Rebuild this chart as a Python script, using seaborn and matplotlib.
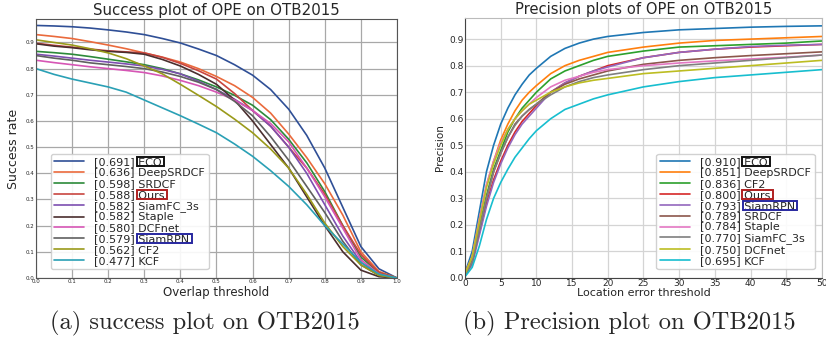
"""Success / precision plots of OPE on OTB2015, two panels side by side."""
import matplotlib

matplotlib.use("Agg")

import matplotlib.pyplot as plt  # noqa: E402
import numpy as np  # noqa: E402
import pandas as pd  # noqa: E402
import seaborn as sns  # noqa: E402
from matplotlib.patches import Rectangle  # noqa: E402

# ---------------------------------------------------------------------------
# Data
# ---------------------------------------------------------------------------
overlap_x = [0.0, 0.05, 0.1, 0.15, 0.2, 0.25, 0.3, 0.35, 0.4, 0.45, 0.5,
             0.55, 0.6, 0.65, 0.7, 0.75, 0.8, 0.85, 0.9, 0.95, 1.0]

success_names = ["ECO", "DeepSRDCF", "SRDCF", "Ours", "SiamFC_3s", "Staple",
                 "DCFnet", "SiamRPN", "CF2", "KCF"]
success_auc = [0.691, 0.636, 0.598, 0.588, 0.582, 0.582, 0.580, 0.579, 0.562, 0.477]

succ_eco = [0.965, 0.963, 0.960, 0.955, 0.948, 0.940, 0.930, 0.915, 0.898, 0.875, 0.850,
            0.815, 0.775, 0.720, 0.645, 0.545, 0.420, 0.270, 0.120, 0.035, 0.0]
succ_deepsrdcf = [0.930, 0.923, 0.915, 0.903, 0.890, 0.876, 0.860, 0.844, 0.825, 0.800, 0.770,
                  0.735, 0.690, 0.630, 0.550, 0.460, 0.360, 0.240, 0.100, 0.025, 0.0]
succ_srdcf = [0.866, 0.861, 0.855, 0.846, 0.836, 0.826, 0.815, 0.800, 0.780, 0.757, 0.730,
              0.698, 0.660, 0.605, 0.530, 0.440, 0.330, 0.200, 0.080, 0.020, 0.0]
succ_ours = [0.897, 0.889, 0.882, 0.875, 0.868, 0.864, 0.860, 0.843, 0.820, 0.792, 0.760,
             0.705, 0.640, 0.580, 0.500, 0.420, 0.320, 0.200, 0.090, 0.020, 0.0]
succ_siamfc = [0.855, 0.848, 0.840, 0.832, 0.825, 0.818, 0.810, 0.797, 0.780, 0.752, 0.720,
               0.683, 0.640, 0.580, 0.500, 0.400, 0.280, 0.160, 0.060, 0.010, 0.0]
succ_staple = [0.895, 0.886, 0.880, 0.872, 0.866, 0.862, 0.855, 0.835, 0.810, 0.778, 0.740,
               0.680, 0.600, 0.510, 0.420, 0.310, 0.200, 0.100, 0.030, 0.005, 0.0]
succ_dcfnet = [0.832, 0.823, 0.815, 0.807, 0.800, 0.793, 0.785, 0.772, 0.755, 0.735, 0.710,
               0.680, 0.640, 0.590, 0.520, 0.420, 0.310, 0.190, 0.070, 0.015, 0.0]
succ_siamrpn = [0.850, 0.840, 0.832, 0.822, 0.815, 0.808, 0.800, 0.787, 0.770, 0.748, 0.720,
                0.675, 0.620, 0.540, 0.450, 0.350, 0.250, 0.140, 0.050, 0.010, 0.0]
succ_cf2 = [0.910, 0.900, 0.890, 0.876, 0.860, 0.838, 0.810, 0.780, 0.740, 0.698, 0.655,
            0.607, 0.555, 0.493, 0.420, 0.320, 0.210, 0.120, 0.050, 0.010, 0.0]
succ_kcf = [0.800, 0.778, 0.760, 0.745, 0.730, 0.710, 0.680, 0.650, 0.620, 0.588, 0.555,
            0.512, 0.465, 0.410, 0.350, 0.280, 0.200, 0.130, 0.060, 0.015, 0.0]

location_x = [0, 1, 2, 3, 4, 5, 6, 7, 8, 9, 10, 12, 14, 16, 18, 20,
              25, 30, 35, 40, 45, 50]

precision_names = ["ECO", "DeepSRDCF", "CF2", "Ours", "SiamRPN", "SRDCF", "Staple",
                   "SiamFC_3s", "DCFnet", "KCF"]
precision_score = [0.910, 0.851, 0.836, 0.800, 0.793, 0.789, 0.784, 0.770, 0.750, 0.695]

prec_eco = [0.020, 0.100, 0.250, 0.400, 0.500, 0.580, 0.640, 0.690, 0.730, 0.765, 0.790,
            0.835, 0.865, 0.885, 0.900, 0.910, 0.925, 0.935, 0.940, 0.945, 0.948, 0.950]
prec_deepsrdcf = [0.020, 0.080, 0.220, 0.350, 0.440, 0.520, 0.580, 0.630, 0.670, 0.700, 0.725,
                  0.770, 0.800, 0.820, 0.835, 0.850, 0.870, 0.885, 0.895, 0.900, 0.905, 0.910]
prec_cf2 = [0.015, 0.070, 0.190, 0.310, 0.410, 0.480, 0.550, 0.600, 0.640, 0.670, 0.700,
            0.750, 0.780, 0.800, 0.820, 0.835, 0.855, 0.870, 0.875, 0.880, 0.885, 0.893]
prec_ours = [0.010, 0.060, 0.170, 0.280, 0.370, 0.440, 0.500, 0.550, 0.590, 0.620, 0.650,
             0.700, 0.735, 0.760, 0.780, 0.800, 0.830, 0.850, 0.862, 0.870, 0.875, 0.880]
prec_siamrpn = [0.010, 0.050, 0.160, 0.270, 0.360, 0.430, 0.490, 0.540, 0.580, 0.610, 0.640,
                0.700, 0.735, 0.760, 0.780, 0.795, 0.830, 0.850, 0.862, 0.872, 0.877, 0.880]
prec_srdcf = [0.010, 0.060, 0.180, 0.300, 0.400, 0.470, 0.530, 0.580, 0.610, 0.635, 0.655,
              0.700, 0.730, 0.750, 0.765, 0.780, 0.805, 0.820, 0.830, 0.838, 0.845, 0.852]
prec_staple = [0.015, 0.080, 0.220, 0.350, 0.440, 0.510, 0.560, 0.600, 0.630, 0.655, 0.680,
               0.720, 0.745, 0.760, 0.775, 0.785, 0.800, 0.810, 0.818, 0.825, 0.832, 0.840]
prec_siamfc = [0.010, 0.060, 0.180, 0.300, 0.400, 0.470, 0.530, 0.575, 0.610, 0.635, 0.655,
               0.690, 0.720, 0.740, 0.755, 0.765, 0.785, 0.800, 0.810, 0.820, 0.830, 0.840]
prec_dcfnet = [0.015, 0.080, 0.210, 0.340, 0.430, 0.500, 0.560, 0.600, 0.630, 0.655, 0.670,
               0.700, 0.720, 0.735, 0.745, 0.752, 0.770, 0.780, 0.790, 0.800, 0.810, 0.820]
prec_kcf = [0.005, 0.040, 0.120, 0.220, 0.300, 0.360, 0.410, 0.455, 0.490, 0.525, 0.555,
            0.600, 0.635, 0.655, 0.675, 0.690, 0.720, 0.740, 0.755, 0.765, 0.775, 0.785]

success_curves = [succ_eco, succ_deepsrdcf, succ_srdcf, succ_ours, succ_siamfc, succ_staple,
                  succ_dcfnet, succ_siamrpn, succ_cf2, succ_kcf]
precision_curves = [prec_eco, prec_deepsrdcf, prec_cf2, prec_ours, prec_siamrpn, prec_srdcf,
                    prec_staple, prec_siamfc, prec_dcfnet, prec_kcf]

# Names whose legend entry gets a framed box, with the frame colour.
HIGHLIGHT = {"ECO": "#111111", "Ours": "#b02020", "SiamRPN": "#2828a0"}

LEFT_COLORS = ["#2f4f96", "#ea6a3c", "#2c8a3a", "#c8453f", "#7d4fb0", "#4a2e2e",
               "#d656b5", "#606060", "#9a9a1a", "#2aa0b5"]
RIGHT_COLORS = sns.color_palette("tab10", 10)

LEGEND_KW = dict(fontsize=8, labelspacing=0.08, handlelength=2.7,
                 handletextpad=0.95, borderpad=0.3, frameon=True,
                 edgecolor="#cccccc", framealpha=0.9)


def long_frame(x, names, curves):
    rows = []
    for name, ys in zip(names, curves):
        rows.append(pd.DataFrame({"x": x, "y": ys, "tracker": name}))
    return pd.concat(rows, ignore_index=True)


def draw_panel(ax, df, names, scores, colors, lw):
    sns.lineplot(data=df, x="x", y="y", hue="tracker", hue_order=names,
                 palette=colors, linewidth=lw, legend=False, ax=ax)
    labels = [f"[{s:.3f}] {n}" for s, n in zip(scores, names)]
    return ax.get_lines()[:len(names)], labels


sns.set_style("whitegrid")
plt.rcParams["font.family"] = ["DejaVu Sans"]

fig = plt.figure(figsize=(8.26, 3.4), dpi=100)
ax1 = fig.add_axes([0.0436, 0.1824, 0.437, 0.762])
ax2 = fig.add_axes([0.563, 0.1824, 0.432, 0.765])

# ---- left: success plot ---------------------------------------------------
df1 = long_frame(overlap_x, success_names, success_curves)
h1, l1 = draw_panel(ax1, df1, success_names, success_auc, LEFT_COLORS, 1.2)
ax1.set_xlim(0, 1)
ax1.set_ylim(0, 0.99)
ax1.set_xticks(np.arange(0, 1.01, 0.1))
ax1.set_yticks(np.arange(0, 0.91, 0.1))
ax1.xaxis.set_major_formatter(matplotlib.ticker.FormatStrFormatter("%.1f"))
ax1.yaxis.set_major_formatter(matplotlib.ticker.FormatStrFormatter("%.1f"))
ax1.tick_params(labelsize=4, pad=1, length=0)
ax1.grid(color="#a8a8a8", linewidth=0.9)
for sp in ax1.spines.values():
    sp.set_color("#555555")
    sp.set_linewidth(0.8)
ax1.set_title("Success plot of OPE on OTB2015", fontsize=10.8, pad=3)
ax1.set_xlabel("Overlap threshold", fontsize=8.5, labelpad=1)
ax1.set_ylabel("Success rate", fontsize=9, labelpad=4,
               family=["Liberation Sans Narrow", "DejaVu Sans"])
leg1 = ax1.legend(h1, l1, loc="lower left", bbox_to_anchor=(0.025, 0.012),
                  **LEGEND_KW)

# ---- right: precision plot ------------------------------------------------
df2 = long_frame(location_x, precision_names, precision_curves)
h2, l2 = draw_panel(ax2, df2, precision_names, precision_score, RIGHT_COLORS, 1.2)
ax2.set_xlim(0, 50)
ax2.set_ylim(0, 0.98)
ax2.set_xticks(np.arange(0, 51, 5))
ax2.set_yticks(np.arange(0, 0.91, 0.1))
ax2.yaxis.set_major_formatter(matplotlib.ticker.FormatStrFormatter("%.1f"))
ax2.tick_params(labelsize=6.5, pad=1, length=0)
ax2.grid(color="#d4d4d4", linewidth=0.9)
for sp in ax2.spines.values():
    sp.set_color("#bbbbbb")
ax2.spines["left"].set_color("#444444")
ax2.spines["bottom"].set_color("#444444")
ax2.set_title("Precision plots of OPE on OTB2015", fontsize=10.6, pad=3)
ax2.set_xlabel("Location error threshold", fontsize=8, labelpad=0)
ax2.set_ylabel("Precision", fontsize=7.5, labelpad=3)
leg2 = ax2.legend(h2, l2, loc="lower right", bbox_to_anchor=(0.995, 0.012),
                  **LEGEND_KW)

# ---- captions -------------------------------------------------------------
fig.text(0.248, 0.05, "(a) success plot on OTB2015", ha="center", va="center",
         fontsize=17.6, family="cmr10")
fig.text(0.762, 0.05, "(b) Precision plot on OTB2015", ha="center", va="center",
         fontsize=17.6, family="cmr10")

# ---- frames around selected tracker names in the legends ------------------
fig.canvas.draw()
renderer = fig.canvas.get_renderer()
W, H = fig.bbox.width, fig.bbox.height
for leg in (leg1, leg2):
    for txt in leg.get_texts():
        name = txt.get_text().split("] ", 1)[1]
        if name not in HIGHLIGHT:
            continue
        bb = txt.get_window_extent(renderer)
        w_name, _, _ = renderer.get_text_width_height_descent(
            name, txt.get_fontproperties(), ismath=False)
        x0 = bb.x1 - w_name - 2
        rect = Rectangle((x0 / W, (bb.y0 + 1) / H), (w_name + 4) / W,
                         (bb.height - 1) / H, transform=fig.transFigure,
                         fill=False, edgecolor=HIGHLIGHT[name], linewidth=1.4,
                         zorder=10)
        fig.add_artist(rect)

fig.savefig("out.png", dpi=100)
plt.close(fig)
